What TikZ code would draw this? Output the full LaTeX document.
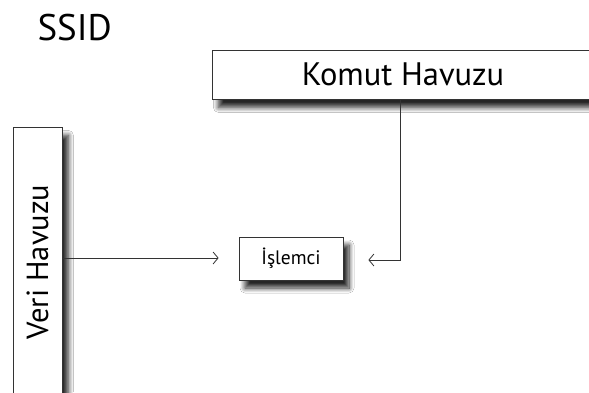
\documentclass[tikz,border=0pt]{standalone}
\usepackage{fontspec}
\setmainfont{PT Sans}
\usetikzlibrary{arrows.meta,shadows.blur}
\begin{document}
\begin{tikzpicture}[x=1pt,y=-1pt,
  box/.style={draw=black!80, line width=0.8pt, fill=white, inner sep=0pt,
    blur shadow={shadow xshift=6pt, shadow yshift=-8pt, shadow blur steps=10,
      shadow blur radius=5pt, shadow opacity=85}},
  link/.style={draw=black!80, line width=0.8pt,
    -{Straight Barb[length=5pt,width=12pt,line width=0.8pt]}},
]
\useasboundingbox (0,0) rectangle (589,392);
\fill[white] (0,0) rectangle (589,392);

\node[anchor=west, font=\fontsize{37}{40}\selectfont] (title) at (34,28) {SSID};

\node[box, minimum width=390pt, minimum height=49pt, anchor=north west] (komut) at (212,50) {};
\node[font=\fontsize{32.5}{35}\selectfont] (komutlbl) at (403,74) {Komut Havuzu};

\node[box, minimum width=49pt, minimum height=280pt, anchor=north west] (veri) at (13,127) {};
\node[rotate=90, font=\fontsize{30.5}{33}\selectfont] (verilbl) at (37.5,262) {Veri Havuzu};

\node[box, minimum width=104pt, minimum height=43pt, font=\fontsize{19.5}{22}\selectfont] (islemci) at (291,258.5) {İşlemci};

\coordinate (bend) at (400,260);
\draw[link] (veri.east |- 0,258) -- ([xshift=-20pt]islemci.west |- 0,258);
\draw[link] (komut.south -| bend) -- (bend) -- ([xshift=25pt]islemci.east |- bend);
\end{tikzpicture}
\end{document}
